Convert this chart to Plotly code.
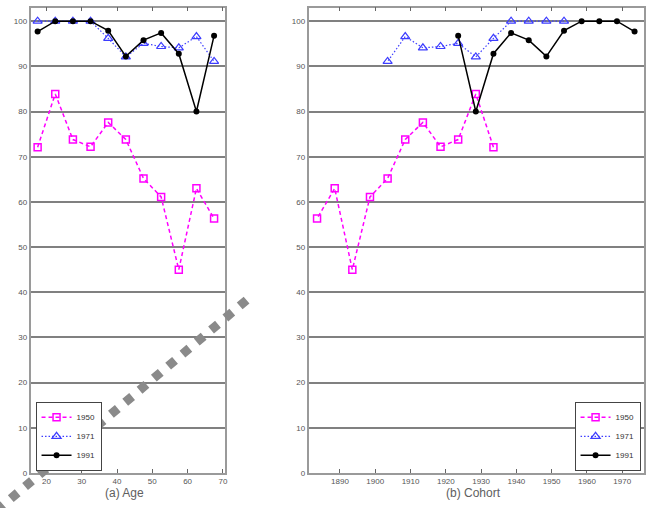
import plotly.graph_objects as go

# ---------------- data ----------------
age_groups = [17.5, 22.5, 27.5, 32.5, 37.5, 42.5, 47.5, 52.5, 57.5, 62.5, 67.5]
rate_1950 = [72.1, 83.9, 73.8, 72.2, 77.6, 73.8, 65.2, 61.1, 45.0, 63.0, 56.3]
rate_1971 = [100, 100, 100, 100, 96.2, 92.1, 95.1, 94.4, 94.1, 96.6, 91.1]
rate_1991 = [97.7, 100, 100, 100, 97.9, 92.2, 95.8, 97.4, 92.8, 80.0, 96.8]

cohort_1950 = [1933.5, 1928.5, 1923.5, 1918.5, 1913.5, 1908.5, 1903.5, 1898.5, 1893.5, 1888.5, 1883.5]
cohort_1971 = [1953.5, 1948.5, 1943.5, 1938.5, 1933.5, 1928.5, 1923.5, 1918.5, 1913.5, 1908.5, 1903.5]
cohort_1991 = [1973.5, 1968.5, 1963.5, 1958.5, 1953.5, 1948.5, 1943.5, 1938.5, 1933.5, 1928.5, 1923.5]

series_names = ["1950", "1971", "1991"]
y_ticks = [0, 10, 20, 30, 40, 50, 60, 70, 80, 90, 100]
age_ticks = [20, 30, 40, 50, 60, 70]
cohort_ticks = [1890, 1900, 1910, 1920, 1930, 1940, 1950, 1960, 1970]
panel_titles = ["(a) Age", "(b) Cohort"]

# ---------------- styles ----------------
W, H = 656, 508
styles = {
    "1950": dict(line=dict(color="#ff00ff", width=1.5, dash="4px,3px"),
                 marker=dict(symbol="square-open", size=7, color="#ff00ff", line=dict(width=1.5))),
    "1971": dict(line=dict(color="#3d3dff", width=1.2, dash="1.5px,2px"),
                 marker=dict(symbol="triangle-up-open", size=8, color="#3d3dff", line=dict(width=1.2))),
    "1991": dict(line=dict(color="#000000", width=1.5),
                 marker=dict(symbol="circle", size=6, color="#000000")),
}

fig = go.Figure()

age_vals = {"1950": rate_1950, "1971": rate_1971, "1991": rate_1991}
coh_x = {"1950": cohort_1950, "1971": cohort_1971, "1991": cohort_1991}

for name in series_names:
    fig.add_trace(go.Scatter(x=age_groups, y=age_vals[name], name=name, mode="lines+markers",
                             xaxis="x", yaxis="y", legend="legend", **styles[name]))
for name in series_names:
    fig.add_trace(go.Scatter(x=coh_x[name], y=age_vals[name], name=name, mode="lines+markers",
                             xaxis="x2", yaxis="y2", legend="legend2", **styles[name]))

# plot areas (pixels)
L1, R1 = 30.7, 225.7
L2, R2 = 310.0, 646.7
TOP, BOT = 7.7, 477.7

def px(x):
    return x / W

def py(y):
    return 1 - y / H

tick_font = dict(family="Liberation Sans, Arial, sans-serif", size=8, color="#555555")
frame = "#9a9a9a"

common_x = dict(showline=True, linecolor=frame, linewidth=1.5, mirror="ticks",
                ticks="inside", ticklen=4, tickcolor="#666666", tickwidth=1,
                showgrid=False, zeroline=False, tickfont=tick_font)
common_y = dict(showline=True, linecolor=frame, linewidth=1.5, mirror=True,
                ticks="", showgrid=True, gridcolor="#808080", gridwidth=1.5,
                zeroline=False, range=[0, 103], tickvals=y_ticks, tickfont=tick_font)

legend_font = dict(family="Liberation Sans, Arial, sans-serif", size=8, color="#333333")

fig.update_layout(
    width=W, height=H,
    margin=dict(l=0, r=0, t=0, b=0),
    paper_bgcolor="white", plot_bgcolor="white",
    xaxis=dict(domain=[px(L1), px(R1)], range=[15.5, 70.5], tickvals=age_ticks,
               anchor="y", **common_x),
    yaxis=dict(domain=[py(BOT), py(TOP)], anchor="x", **common_y),
    xaxis2=dict(domain=[px(L2), px(R2)], range=[1881.1, 1976.1], tickvals=cohort_ticks,
                anchor="y2", **common_x),
    yaxis2=dict(domain=[py(BOT), py(TOP)], anchor="x2", **common_y),
    legend=dict(x=px(35.7), y=py(475.5), xanchor="left", yanchor="bottom",
                bgcolor="white", bordercolor="#444444", borderwidth=1,
                font=legend_font, tracegroupgap=0, itemwidth=30),
    legend2=dict(x=px(643.5), y=py(475.5), xanchor="right", yanchor="bottom",
                 bgcolor="white", bordercolor="#444444", borderwidth=1,
                 font=legend_font, tracegroupgap=0, itemwidth=30),
    showlegend=True,
)

# panel captions
for title, (l, r) in zip(panel_titles, [(L1, R1), (L2, R2)]):
    fig.add_annotation(text=title, xref="paper", yref="paper",
                       x=px((l + r) / 2 - 3), y=py(498), xanchor="center", yanchor="middle",
                       showarrow=False,
                       font=dict(family="Liberation Sans, Arial, sans-serif", size=12, color="#606060"))

# decorative diagonal dotted band overlaid on the picture
x_start, y_start = 247.7, 303.1
x_end, y_end = 247.7 - 0.7635 * 345, 303.1 + 0.646 * 345
fig.add_shape(type="line", xref="paper", yref="paper",
              x0=px(x_start), y0=py(y_start), x1=px(x_end), y1=py(y_end),
              line=dict(color="#8a8a8a", width=9, dash="9px,9.7px"), layer="above")

fig.write_html("out.html", config={"displayModeBar": False},
               post_script="document.body.style.margin='0';document.body.style.overflow='hidden';")
